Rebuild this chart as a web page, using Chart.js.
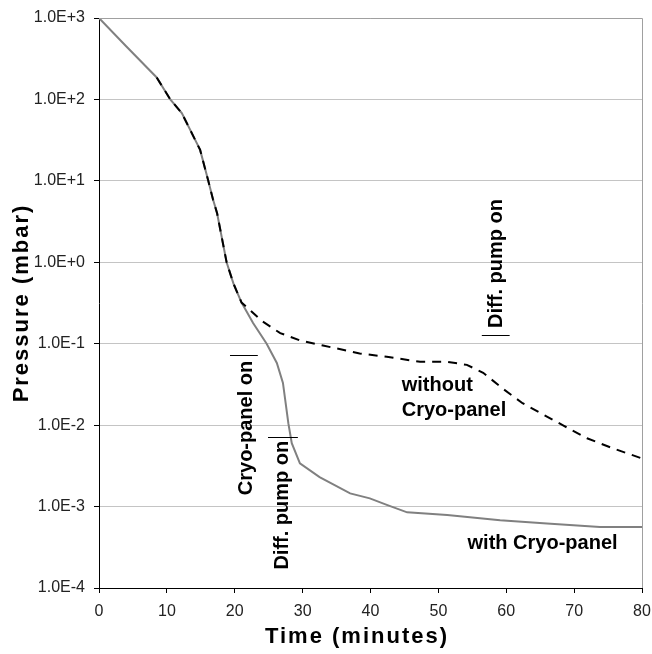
<!DOCTYPE html>
<html>
<head>
<meta charset="utf-8">
<script src="https://cdn.jsdelivr.net/npm/chart.js@4/dist/chart.umd.min.js"></script>
<style>
  html, body { margin: 0; padding: 0; background: #fff; }
  canvas { display: block; }
</style>
</head>
<body>
<canvas id="c" width="652" height="654"></canvas>
<script>
// pump-down curves
const timeWith = [0, 4, 8.5, 10.5, 12.2, 14.9, 16.1, 16.8, 17.4, 18.8, 19.8, 21.0, 22.7, 24.7, 26.2, 27.1, 27.9, 28.4, 29.6, 32.5, 37.0, 39.9, 42.4, 45.4, 51.3, 59.1, 66.0, 73.8, 80];
const presWith = [1000, 450, 186, 100, 68, 24, 10, 5.9, 4.0, 1.0, 0.55, 0.32, 0.18, 0.10, 0.058, 0.033, 0.0105, 0.006, 0.0034, 0.0023, 0.00145, 0.00126, 0.00105, 0.00085, 0.00079, 0.00068, 0.00062, 0.00056, 0.00056];

const timeWithout = [8.5, 10.5, 12.2, 14.9, 16.1, 16.8, 17.4, 18.8, 19.8, 21.0, 21.8, 24.0, 26.7, 29.6, 33.0, 38.4, 42.4, 47.3, 51.3, 54.2, 56.6, 59.5, 62.4, 68.5, 71.9, 75.7, 80];
const presWithout = [186, 100, 68, 24, 10, 5.9, 4.0, 1.0, 0.55, 0.32, 0.28, 0.19, 0.135, 0.11, 0.095, 0.076, 0.069, 0.060, 0.060, 0.055, 0.044, 0.028, 0.0186, 0.0098, 0.0069, 0.0052, 0.0039];

const yDecades = [-4, -3, -2, -1, 0, 1, 2, 3];
const xTicks = [0, 10, 20, 30, 40, 50, 60, 70, 80];

const toPoints = (xs, ys) => xs.map((x, i) => ({ x, y: ys[i] }));

function sciLabel(v) {
  const e = Math.round(Math.log10(v));
  return '1.0E' + (e >= 0 ? '+' : '-') + Math.abs(e);
}

// notes placed in data units (x = minutes, y = mbar)
const NOTES = [
  { text: 'without', x: 44.6, y: 0.0262 },
  { text: 'Cryo-panel', x: 44.6, y: 0.0129 },
  { text: 'with Cryo-panel', x: 54.3, y: 0.000301 },
];
const VNOTES = [
  { text: 'Cryo-panel on', x: 22.5, y: 0.00923, bar: [19.3, 23.4, 0.0726] },
  { text: 'Diff. pump on', x: 27.8, y: 0.00104, bar: [24.9, 29.3, 0.00714] },
  { text: 'Diff. pump on', x: 59.4, y: 0.966, bar: [56.4, 60.5, 0.128] },
];

const extras = {
  id: 'extras',
  afterDraw(chart) {
    const { ctx, chartArea: a, scales: { x, y } } = chart;
    ctx.save();
    // top + right frame
    ctx.strokeStyle = '#a0a0a0';
    ctx.lineWidth = 1;
    ctx.beginPath();
    ctx.moveTo(a.left, a.top + 0.5);
    ctx.lineTo(a.right + 0.5, a.top + 0.5);
    ctx.lineTo(a.right + 0.5, a.bottom);
    ctx.stroke();

    ctx.fillStyle = '#000';
    ctx.font = 'bold 20px "Liberation Sans", Arial, sans-serif';
    ctx.textBaseline = 'alphabetic';
    ctx.textAlign = 'left';
    NOTES.forEach((n) => ctx.fillText(n.text, x.getPixelForValue(n.x), y.getPixelForValue(n.y)));

    ctx.strokeStyle = '#000';
    VNOTES.forEach((n) => {
      ctx.save();
      ctx.translate(x.getPixelForValue(n.x), y.getPixelForValue(n.y));
      ctx.rotate(-Math.PI / 2);
      ctx.textAlign = 'center';
      ctx.fillText(n.text, 0, 0);
      ctx.restore();
      const by = Math.round(y.getPixelForValue(n.bar[2])) + 0.5;
      ctx.beginPath();
      ctx.moveTo(x.getPixelForValue(n.bar[0]), by);
      ctx.lineTo(x.getPixelForValue(n.bar[1]), by);
      ctx.stroke();
    });

    // axis titles
    ctx.font = 'bold 22px "Liberation Sans", Arial, sans-serif';
    ctx.letterSpacing = '2px';
    ctx.textAlign = 'center';
    ctx.fillText('Time (minutes)', 357, 643);
    ctx.translate(28, 303);
    ctx.rotate(-Math.PI / 2);
    ctx.fillText('Pressure (mbar)', 0, 0);
    ctx.restore();
  },
};

new Chart(document.getElementById('c'), {
  type: 'line',
  data: {
    datasets: [
      {
        label: 'without Cryo-panel',
        data: toPoints(timeWithout, presWithout),
        borderColor: '#000',
        borderWidth: 2,
        borderDash: [9, 7],
        pointRadius: 0,
        tension: 0,
      },
      {
        label: 'with Cryo-panel',
        data: toPoints(timeWith, presWith),
        borderColor: '#808080',
        borderWidth: 2,
        pointRadius: 0,
        tension: 0,
      },
    ],
  },
  options: {
    responsive: false,
    animation: false,
    devicePixelRatio: 1,
    layout: { padding: { left: 0, top: 18, right: 10, bottom: 0 } },
    plugins: { legend: { display: false }, tooltip: { enabled: false } },
    scales: {
      x: {
        type: 'linear',
        min: 0,
        max: 80,
        afterFit: (s) => { s.height = 66; s.paddingLeft = 0; s.paddingRight = 0; },
        afterBuildTicks: (s) => { s.ticks = xTicks.map((v) => ({ value: v })); },
        grid: { drawOnChartArea: false, drawTicks: true, tickLength: 5, tickColor: '#000' },
        border: { color: '#000', width: 1 },
        ticks: {
          padding: 9,
          color: '#222',
          font: { family: '"Liberation Sans", Arial, sans-serif', size: 16 },
          maxRotation: 0,
        },
      },
      y: {
        type: 'logarithmic',
        min: 1e-4,
        max: 1e3,
        afterFit: (s) => { s.width = 99; s.paddingTop = 0; s.paddingBottom = 0; },
        afterBuildTicks: (s) => { s.ticks = yDecades.map((e) => ({ value: Math.pow(10, e) })); },
        grid: { color: '#c4c4c4', lineWidth: 1, drawTicks: true, tickLength: 5, tickColor: '#000' },
        border: { color: '#000', width: 1 },
        ticks: {
          padding: 9,
          color: '#222',
          font: { family: '"Liberation Sans", Arial, sans-serif', size: 16 },
          callback: (v) => sciLabel(v),
        },
      },
    },
  },
  plugins: [extras],
});
</script>
</body>
</html>
